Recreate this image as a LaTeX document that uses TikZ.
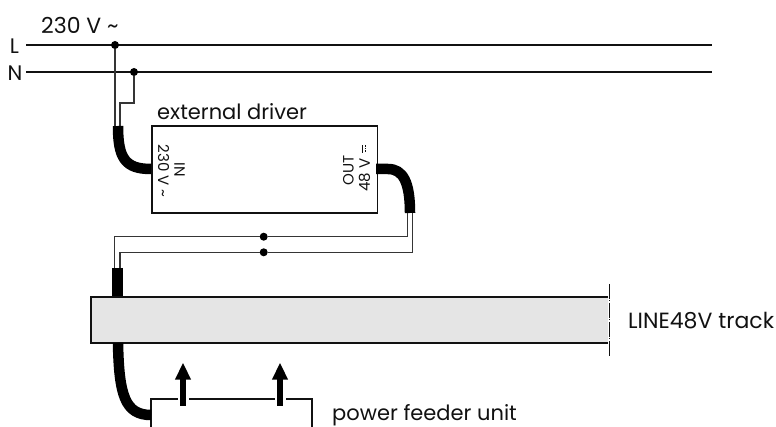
\documentclass[tikz,border=0pt]{standalone}
\usepackage{fontspec}
\setmainfont{Poppins}
\usetikzlibrary{arrows.meta}
\definecolor{ink}{HTML}{111111}
\tikzset{
  wire/.style={draw=ink!85,line width=1.1pt},
  bus/.style={draw=ink,line width=1.5pt},
  cable/.style={draw=black,line width=10.5pt},
  boxline/.style={draw=ink,line width=1.7pt},
  junction/.style={circle,fill=black,inner sep=0pt,minimum size=8pt},
  lab/.style={inner sep=0pt,text=ink,font=\fontsize{21}{23}\selectfont},
  small/.style={inner sep=0pt,text=ink,font=\fontsize{15}{16}\selectfont},
  feedarrow/.style={draw=black,line width=6pt,-{Triangle[length=17pt,width=15pt]},shorten >=0pt},
}
\begin{document}
\begin{tikzpicture}[x=1pt,y=-1pt]
\useasboundingbox (0,0) rectangle (776,427);
% mains
\coordinate (Ls) at (26,45); \coordinate (Le) at (712,45);
\coordinate (Ns) at (26,72); \coordinate (Ne) at (712,72);
\draw[bus] (Ls) -- (Le);
\draw[bus] (Ns) -- (Ne);
\node[junction] (jL) at (115,45) {};
\node[junction] (jN) at (134,72) {};
\node[lab,anchor=west,font=\fontsize{22}{24}\selectfont] (mains) at (41,25) {230 V \char"7E};
\node[lab,anchor=center] (lL) at (14.5,46) {L};
\node[lab,anchor=center] (lN) at (15,73) {N};
% driver
\node[boxline,minimum width=225.5pt,minimum height=87pt,inner sep=0pt,anchor=north west] (drv) at (151,125.5) {};
\node[lab,anchor=west] (drvlab) at (157,112) {external driver};
\node[small,rotate=-90] (inl) at (179.5,170) {IN};
\node[small,rotate=-90] (inv) at (163.5,171) {230 V \char"7E};
\node[small,rotate=90] (outl) at (348.5,170) {OUT};
\node[small,rotate=90,anchor=west] (outv) at (364.5,192) {48 V};
\draw[draw=ink,line width=1pt] (362.4,145.5) -- (362.4,153);
\draw[draw=ink,line width=1pt,dash pattern=on 1.5pt off 1pt] (365.5,145.5) -- (365.5,153);
% input cable
\coordinate (cinT) at (118,126);
\coordinate (cinE) at (drv.west |- 0,169);
\draw[wire] (jL) -- (115,126);
\draw[wire] (jN) |- (120,103) -- (120,126);
\draw[cable] (cinT) .. controls (118,158) and (125,169) .. (cinE);
% output cable
\coordinate (coutS) at (376,169);
\coordinate (coutE) at (410,213);
\draw[cable] (coutS) -- (388,169) .. controls (403,169) and (410,182) .. (coutE);
% DC wires
\node[junction] (j1) at (263.7,236.7) {};
\node[junction] (j2) at (263.7,252.3) {};
\coordinate (ctT) at (117.5,268);
\coordinate (ctB) at (117.5,297);
\draw[wire] (407.3,213) |- (j1) -- (114.8,236.7) -- (114.8,268);
\draw[wire] (412.7,213) |- (j2) -- (120,252.3) -- (120,268);
\draw[cable] (ctT) -- (ctB);
% track
\fill[fill=black!10] (91,297) rectangle (608,343.3);
\draw[boxline] (608,297) -- (91,297) -- (91,343.3) -- (608,343.3);
\draw[draw=ink,line width=1pt,dash pattern=on 15pt off 1.5pt on 1pt off 1.5pt] (609,284) -- (609,356);
\node[lab,anchor=west,font=\fontsize{22}{24}\selectfont] (tracklab) at (628,320.5) {LINE48V track};
% feeder
\coordinate (fbl) at (151,427); \coordinate (fbr) at (312,427);
\draw[boxline] (fbl) -- (151,399) -- (312,399) -- (fbr);
\draw[cable] (118,343) .. controls (119,395) and (125,415) .. (151,415);
\foreach \x in {183,280}{
  \fill[white] (\x-5.5,396) rectangle (\x+5.5,402);
  \draw[feedarrow] (\x,405.7) -- (\x,362.7);
}
\node[lab,anchor=west] (feedlab) at (332,415) {power feeder unit};
\end{tikzpicture}
\end{document}
